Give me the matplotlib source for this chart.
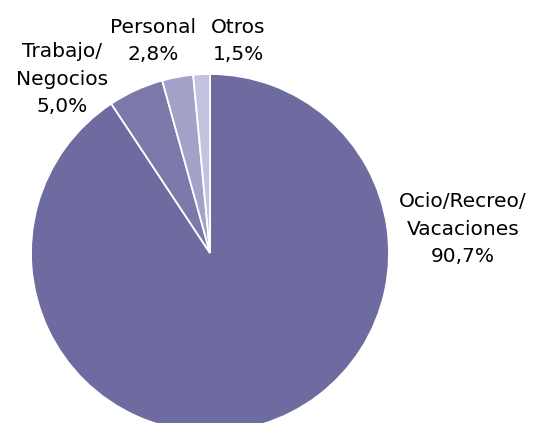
import matplotlib.pyplot as plt

# datos
categorias = ["Ocio/Recreo/\nVacaciones", "Trabajo/\nNegocios", "Personal", "Otros"]
valores = [90.7, 5.0, 2.8, 1.5]
colores = ["#6E6BA0", "#7B78AA", "#A3A1C8", "#C3C2DF"]
# posiciones de las etiquetas (pixeles, y hacia arriba)
etiqueta_xy = [(463, 194), (62, 344), (153, 382), (238, 382)]

fig = plt.figure(figsize=(5.36, 4.23), dpi=100)
ax = fig.add_axes([0, 0, 1, 1])

ax.pie(
    valores,
    colors=colores,
    startangle=90,
    counterclock=False,
    center=(210, 170),
    radius=179,
    wedgeprops=dict(edgecolor="white", linewidth=1.3),
    frame=True,
)
ax.set_xlim(0, 536)
ax.set_ylim(0, 423)
ax.set_aspect("equal")
ax.axis("off")

for nombre, v, (x, y) in zip(categorias, valores, etiqueta_xy):
    texto = f"{nombre}\n{v:.1f}%".replace(".", ",")
    ax.text(x, y, texto, ha="center", va="center", fontsize=14.5,
            linespacing=1.55, color="black", family="DejaVu Sans")

fig.savefig("out.png", dpi=100)
